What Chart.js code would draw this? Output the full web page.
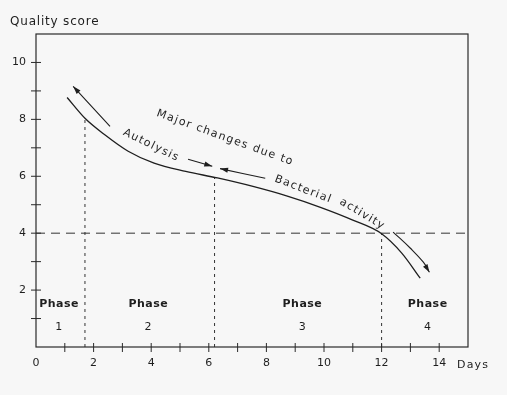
<!DOCTYPE html>
<html lang="en">
<head>
<meta charset="UTF-8">
<title>Quality score</title>
<script src="https://cdn.jsdelivr.net/npm/chart.js"></script>
<style>
  html, body { margin: 0; padding: 0; background: #f7f7f7; }
  #wrap { width: 507px; height: 395px; position: relative; }
</style>
</head>
<body>
<div id="wrap"><canvas id="grafico"></canvas></div>
<script>
// quality curve
const days = [1.08, 1.7, 2.4, 3.2, 4.1, 5.2, 6.3, 7.5, 8.7, 9.9, 11.0, 12.0, 12.7, 13.34];
const score = [8.77, 8.04, 7.45, 6.88, 6.46, 6.17, 5.94, 5.65, 5.31, 4.9, 4.46, 3.98, 3.3, 2.42];

// phase boundaries (dotted verticals) and the limit line
const boundaryDays = [1.7, 6.2, 12];
const boundaryScore = [8.04, 5.96, 3.98];
const limitScore = 4;

// phase labels
const phaseNames = ['1', '2', '3', '4'];
const phaseDays = [0.8, 3.9, 9.25, 13.6];
const phaseWordScore = 1.5;
const phaseNumScore = 0.7;

// arrows (last point = tip)
const arrowUpDays = [2.57, 1.29];
const arrowUpScore = [7.75, 9.16];
const arrowAutoDays = [5.28, 6.12];
const arrowAutoScore = [6.6, 6.35];
const arrowBactDays = [7.96, 6.39];
const arrowBactScore = [5.93, 6.27];
const arrowDownDays = [12.4, 13.0, 13.45, 13.66];
const arrowDownScore = [4.04, 3.47, 2.98, 2.63];

// notes along the curve
const noteText = ['Major changes due to', 'Autolysis', 'Bacterial', 'activity'];
const noteDays = [6.57, 4.0, 9.28, 11.33];
const noteScore = [7.35, 7.09, 5.54, 4.67];
const noteAngle = [20, 26, 21, 31];

const xTicks = [0, 2, 4, 6, 8, 10, 12, 14];
const yTicks = [2, 4, 6, 8, 10];

const ink = '#1e1e1e';
const pts = (xs, ys) => xs.map((d, i) => ({ x: d, y: ys[i] }));

const datasets = [
  { data: pts(days, score), borderColor: ink, borderWidth: 1.3, cubicInterpolationMode: 'monotone' },
  { data: [{ x: 0, y: limitScore }, { x: 15, y: limitScore }], borderColor: '#333', borderWidth: 1, borderDash: [9, 6] }
];
boundaryDays.forEach((d, i) => {
  datasets.push({ data: [{ x: d, y: 0 }, { x: d, y: boundaryScore[i] }], borderColor: '#333', borderWidth: 1, borderDash: [3, 4] });
});
[[arrowUpDays, arrowUpScore], [arrowAutoDays, arrowAutoScore], [arrowBactDays, arrowBactScore], [arrowDownDays, arrowDownScore]]
  .forEach(([xs, ys]) => {
    datasets.push({ data: pts(xs, ys), borderColor: ink, borderWidth: 1.1, tension: 0.4, arrow: true });
  });

const desenho = {
  id: 'desenho',
  afterDatasetsDraw(chart) {
    const { ctx, chartArea: a, scales: { x, y } } = chart;
    ctx.save();
    ctx.strokeStyle = '#2a2a2a';
    ctx.lineWidth = 1.2;
    ctx.strokeRect(a.left, a.top, a.right - a.left, a.bottom - a.top);

    // cross ticks
    ctx.lineWidth = 1;
    ctx.beginPath();
    x.ticks.forEach(t => {
      if (t.value <= 0 || t.value >= 15) return;
      const px = x.getPixelForValue(t.value);
      ctx.moveTo(px, a.bottom - 4); ctx.lineTo(px, a.bottom + 5);
    });
    y.ticks.forEach(t => {
      if (t.value <= 0 || t.value >= 11) return;
      const py = y.getPixelForValue(t.value);
      ctx.moveTo(a.left - 5, py); ctx.lineTo(a.left + 5, py);
    });
    ctx.stroke();

    // arrow heads
    ctx.fillStyle = ink;
    chart.data.datasets.forEach((ds, i) => {
      if (!ds.arrow) return;
      const el = chart.getDatasetMeta(i).data;
      const tip = el[el.length - 1], prev = el[el.length - 2];
      const ang = Math.atan2(tip.y - prev.y, tip.x - prev.x);
      ctx.save();
      ctx.translate(tip.x, tip.y);
      ctx.rotate(ang);
      ctx.beginPath();
      ctx.moveTo(0, 0); ctx.lineTo(-8, -2.6); ctx.lineTo(-8, 2.6); ctx.closePath();
      ctx.fill();
      ctx.restore();
    });

    // notes
    ctx.fillStyle = ink;
    ctx.font = '11px "DejaVu Sans"';
    ctx.letterSpacing = '1.3px';
    ctx.textAlign = 'center';
    ctx.textBaseline = 'middle';
    noteText.forEach((t, i) => {
      ctx.save();
      ctx.translate(x.getPixelForValue(noteDays[i]), y.getPixelForValue(noteScore[i]));
      ctx.rotate(noteAngle[i] * Math.PI / 180);
      ctx.fillText(t, 0, 0);
      ctx.restore();
    });

    // phases
    ctx.letterSpacing = '0.5px';
    phaseNames.forEach((n, i) => {
      const px = x.getPixelForValue(phaseDays[i]);
      ctx.font = 'bold 11px "DejaVu Sans"';
      ctx.fillText('Phase', px, y.getPixelForValue(phaseWordScore));
      ctx.font = '11px "DejaVu Sans"';
      ctx.fillText(n, px, y.getPixelForValue(phaseNumScore));
    });

    // axis titles
    ctx.textAlign = 'left';
    ctx.font = '12px "DejaVu Sans"';
    ctx.letterSpacing = '0.8px';
    ctx.fillText('Quality score', a.left - 26, a.top - 12);
    ctx.font = '11px "DejaVu Sans"';
    ctx.letterSpacing = '1.2px';
    ctx.fillText('Days', a.right - 11, a.bottom + 18);
    ctx.restore();
  }
};

new Chart(document.getElementById('grafico'), {
  type: 'line',
  data: { datasets: datasets },
  options: {
    responsive: true,
    maintainAspectRatio: false,
    animation: false,
    layout: { padding: { top: 34, right: 39, left: 0, bottom: 0 } },
    elements: { point: { radius: 0 } },
    plugins: { legend: { display: false }, tooltip: { enabled: false } },
    scales: {
      x: {
        type: 'linear', min: 0, max: 15,
        grid: { display: false, drawTicks: false },
        border: { display: false },
        afterFit: s => { s.height = 48; },
        ticks: {
          stepSize: 1, autoSkip: false, maxRotation: 0, padding: 10,
          color: ink, font: { family: 'DejaVu Sans', size: 11 },
          callback: v => xTicks.includes(v) ? String(v) : ''
        }
      },
      y: {
        type: 'linear', min: 0, max: 11,
        grid: { display: false, drawTicks: false },
        border: { display: false },
        afterFit: s => { s.width = 36; },
        ticks: {
          stepSize: 1, autoSkip: false, padding: 10,
          color: ink, font: { family: 'DejaVu Sans', size: 11 },
          callback: v => yTicks.includes(v) ? String(v) : ''
        }
      }
    }
  },
  plugins: [desenho]
});
</script>
</body>
</html>
